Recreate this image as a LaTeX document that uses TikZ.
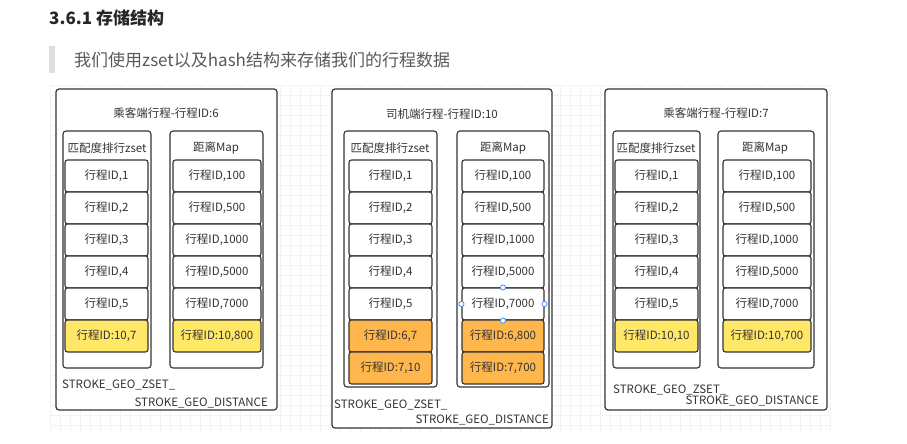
\documentclass[tikz,border=0pt]{standalone}
\usepackage{fontspec}
\setmainfont{Noto Sans CJK SC}
\definecolor{gelbfeld}{RGB}{255,232,104}
\definecolor{orangefeld}{RGB}{255,182,77}
\definecolor{linie}{RGB}{51,51,51}
\definecolor{griffblau}{RGB}{61,143,255}
\begin{document}
\begin{tikzpicture}[x=1pt,y=-1pt,
  rahmen/.style={draw=linie,line width=1.2pt,rounded corners=3pt,fill=white,inner sep=0pt},
  kasten/.style={draw=linie,line width=1.1pt,rounded corners=3pt,fill=white,inner sep=0pt},
  feld/.style={draw=linie,line width=1.1pt,rounded corners=2.5pt,fill=white,inner sep=0pt,
    minimum height=32pt,text=linie,font=\fontsize{11.5}{13}\selectfont},
  gelb/.style={fill=gelbfeld},
  orange/.style={fill=orangefeld},
  kopf/.style={inner sep=0pt,text=linie,font=\fontsize{11.5}{13}\selectfont},
  schrift/.style={inner sep=0pt,text=linie,font=\fontsize{11.5}{13}\selectfont},
  gitter/.style={draw=black!5,line width=0.5pt},
  griff/.style={draw=griffblau,fill=white,line width=0.8pt}]
\useasboundingbox (0,0) rectangle (907,444);

% background grid
\foreach \gx in {50,60,...,830} \draw[gitter] (\gx,85) -- (\gx,433);
\foreach \gy in {85,95,...,433} \draw[gitter] (50,\gy) -- (830,\gy);

% heading
\node (ueber) [anchor=west,inner sep=0pt,text=black!85,font=\fontsize{17}{20}\selectfont\bfseries] at (49,18) {3.6.1 存储结构};
\fill[black!13] (49,46) rectangle (55,73);
\node (satz) [anchor=west,inner sep=0pt,text=black!65,font=\fontsize{17}{20}\selectfont] at (74,60) {我们使用zset以及hash结构来存储我们的行程数据};

% passenger 6
\node (pA) [rahmen,minimum width=221pt,minimum height=321pt] at (166.5,249.5) {};
\node (tA) [kopf] at (166,113) {乘客端行程-行程ID:6};
\node (zA) [kasten,minimum width=88pt,minimum height=237pt] at (107,249.5) {};
\node (mA) [kasten,minimum width=93pt,minimum height=237pt] at (216.5,249.5) {};
\node (zAh) [kopf] at (107,148) {匹配度排行zset};
\node (mAh) [kopf] at (216,148) {距离Map};
\foreach \t [count=\i] in {1,2,3,4,5}
  \node (zA\i) [feld,minimum width=83pt] at (106.5,{144+32*\i}) {行程ID,\t};
\node (zA6) [feld,gelb,minimum width=83pt] at (106.5,336) {行程ID:10,7};
\foreach \t [count=\i] in {100,500,1000,5000,7000}
  \node (mA\i) [feld,minimum width=88pt] at (217,{144+32*\i}) {行程ID,\t};
\node (mA6) [feld,gelb,minimum width=88pt] at (217,336) {行程ID:10,800};
\node (sA1) [schrift,anchor=west] at (62,385) {STROKE\_GEO\_ZSET\_};
\node (sA2) [schrift,anchor=east] at (268,403) {STROKE\_GEO\_DISTANCE};

% driver 10
\node (pB) [rahmen,minimum width=220pt,minimum height=339pt] at (442,258.5) {};
\node (tB) [kopf] at (442,114) {司机端行程-行程ID:10};
\node (zB) [kasten,minimum width=93pt,minimum height=256pt] at (390.5,259) {};
\node (mB) [kasten,minimum width=92pt,minimum height=256pt] at (503,259) {};
\node (zBh) [kopf] at (390,148) {匹配度排行zset};
\node (mBh) [kopf] at (503,148) {距离Map};
\foreach \t [count=\i] in {1,2,3,4,5}
  \node (zB\i) [feld,minimum width=83pt] at (390.5,{144+32*\i}) {行程ID,\t};
\node (zB6) [feld,orange,minimum width=83pt] at (390.5,336) {行程ID:6,7};
\node (zB7) [feld,orange,minimum width=83pt] at (390.5,368) {行程ID:7,10};
\foreach \t [count=\i] in {100,500,1000,5000,7000}
  \node (mB\i) [feld,minimum width=82pt] at (503,{144+32*\i}) {行程ID,\t};
\node (mB6) [feld,orange,minimum width=82pt] at (503,336) {行程ID:6,800};
\node (mB7) [feld,orange,minimum width=82pt] at (503,368) {行程ID:7,700};
\foreach \a in {north,south,west,east}
  \draw[griff] (mB5.\a) circle[radius=2.6pt];
\node (sB1) [schrift,anchor=west] at (334,405) {STROKE\_GEO\_ZSET\_};
\node (sB2) [schrift,anchor=east] at (549,420) {STROKE\_GEO\_DISTANCE};

% passenger 7
\node (pC) [rahmen,minimum width=222pt,minimum height=321pt] at (716,249.5) {};
\node (tC) [kopf] at (716,113) {乘客端行程-行程ID:7};
\node (zC) [kasten,minimum width=87pt,minimum height=237pt] at (656.5,249.5) {};
\node (mC) [kasten,minimum width=96pt,minimum height=237pt] at (766,249.5) {};
\node (zCh) [kopf] at (656,148) {匹配度排行zset};
\node (mCh) [kopf] at (765,148) {距离Map};
\foreach \t [count=\i] in {1,2,3,4,5}
  \node (zC\i) [feld,minimum width=83pt] at (656.5,{144+32*\i}) {行程ID,\t};
\node (zC6) [feld,gelb,minimum width=83pt] at (656.5,336) {行程ID:10,10};
\foreach \t [count=\i] in {100,500,1000,5000,7000}
  \node (mC\i) [feld,minimum width=88pt] at (767,{144+32*\i}) {行程ID,\t};
\node (mC6) [feld,gelb,minimum width=88pt] at (767,336) {行程ID:10,700};
\node (sC1) [schrift,anchor=west] at (613,390) {STROKE\_GEO\_ZSET\_};
\node (sC2) [schrift,anchor=east] at (819,401) {STROKE\_GEO\_DISTANCE};

\end{tikzpicture}
\end{document}
